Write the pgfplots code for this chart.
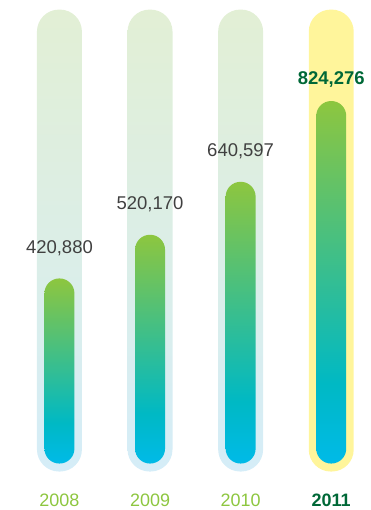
\documentclass[border=0pt]{standalone}
\usepackage{pgfplots}
\pgfplotsset{compat=1.18}
\usepackage{fontspec}
\setmainfont{Liberation Sans}
\definecolor{trkTop}{RGB}{226,239,213}
\definecolor{trkBot}{RGB}{213,237,248}
\definecolor{trkYel}{RGB}{255,245,155}
\definecolor{inGreen}{RGB}{141,198,63}
\definecolor{inTeal}{RGB}{0,185,196}
\definecolor{inBlue}{RGB}{0,186,232}
\definecolor{lblGray}{RGB}{64,64,64}
\definecolor{dkGreen}{RGB}{0,104,55}
\definecolor{yrGreen}{RGB}{141,198,63}
\pgfdeclareverticalshading{trackgrad}{100bp}{color(0bp)=(trkBot); color(25bp)=(trkBot); color(75bp)=(trkTop); color(100bp)=(trkTop)}
\pgfdeclareverticalshading{innergrad}{100bp}{color(0bp)=(inBlue); color(25bp)=(inBlue); color(36bp)=(inTeal); color(75bp)=(inGreen); color(100bp)=(inGreen)}
\begin{document}
\begin{tikzpicture}
\pgfplotsset{
  common/.style={
    width=371pt, height=510pt, scale only axis,
    xmin=-0.656, xmax=3.434,
    axis line style={draw=none},
    major tick length=0pt,
    ytick=\empty,
    clip=false,
  },
  trackbar/.style={ybar, bar width=45pt, bar shift=0pt, draw=none, rounded corners=22pt},
  innerbar/.style={ybar, bar width=30pt, bar shift=0pt, draw=none, shade, shading=innergrad, rounded corners=14.9pt,
    nodes near coords={\pgfmathprintnumber[fixed, 1000 sep={,}, precision=0]{\pgfplotspointmeta}}},
  normlabel/.style={every node near coord/.append style={anchor=base, yshift=25pt, text=lblGray, font=\fontsize{18.5}{20}\selectfont, rounded corners=0pt}},
  highlabel/.style={every node near coord/.append style={anchor=base, yshift=16.5pt, text=dkGreen, font=\fontsize{18.5}{20}\selectfont\bfseries, rounded corners=0pt}},
}
% tracks
\begin{axis}[common,
    ymin=-86298, ymax=1071912,
    xtick=\empty]
  \addplot[trackbar, shade, shading=trackgrad] coordinates {(0,1050340)};
  \addplot[trackbar, shade, shading=trackgrad] coordinates {(1,1050340)};
  \addplot[trackbar, shade, shading=trackgrad] coordinates {(2,1050340)};
  \addplot[trackbar, fill=trkYel] coordinates {(3,1050340)};
\end{axis}
% inner bars
\begin{axis}[common,
    ymin=-104466, ymax=1053744,
    xtick={0,1,2,3},
    xticklabels={\textcolor{yrGreen}{2008},\textcolor{yrGreen}{2009},\textcolor{yrGreen}{2010},\textcolor{dkGreen}{\bfseries 2011}},
    xticklabel style={anchor=base, yshift=3pt, font=\fontsize{18}{20}\selectfont},
    /pgf/number format/assume math mode=true,
  ]
  \addplot[innerbar, normlabel] coordinates {(0,420880)};
  \addplot[innerbar, normlabel] coordinates {(1,520170)};
  \addplot[innerbar, normlabel] coordinates {(2,640597)};
  \addplot[innerbar, highlabel] coordinates {(3,824276)};
\end{axis}
\end{tikzpicture}
\end{document}
